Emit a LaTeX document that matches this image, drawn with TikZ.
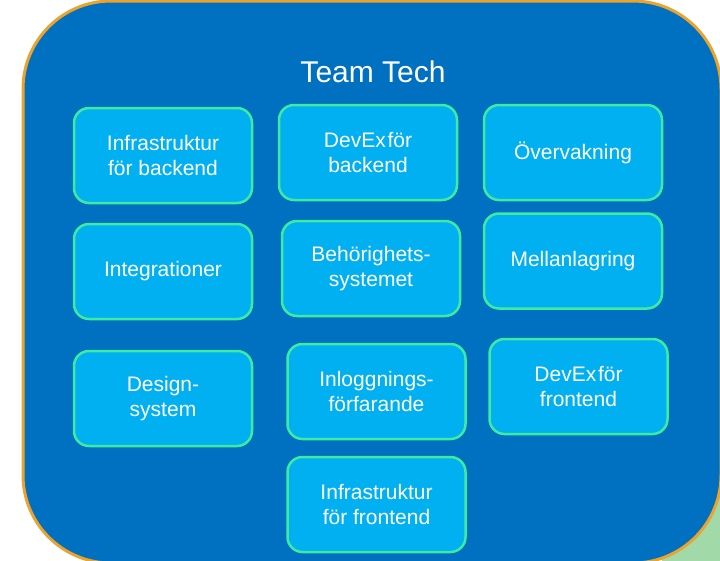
\documentclass[tikz,border=0pt]{standalone}
\usepackage{fontspec}
\setmainfont{Liberation Sans}
\definecolor{bigblue}{HTML}{0070C0}
\definecolor{boxblue}{HTML}{00B0F0}
\definecolor{mint}{HTML}{3EEBA0}
\definecolor{orangeedge}{HTML}{EBA32E}
\definecolor{cornergreen}{HTML}{A2D9A9}
\tikzset{
  tbox/.style={draw=mint, line width=2.5pt, fill=boxblue, rounded corners=15pt,
    minimum width=178pt, minimum height=95pt, align=center, text=white,
    font=\fontsize{21}{24.5}\selectfont, inner sep=0pt},
  title/.style={text=white, font=\fontsize{30}{34}\selectfont, inner sep=0pt}
}
\begin{document}
\begin{tikzpicture}[x=1pt,y=-1pt]
\useasboundingbox (0,0) rectangle (720,560);
\clip (0,0) rectangle (720,560);
\fill[cornergreen] (662,460) rectangle (722,562);
\draw[draw=orangeedge, line width=3pt, fill=bigblue, rounded corners=88pt] (23,1) rectangle (721,563);
\node[title, anchor=base] (t) at (373,82) {Team Tech};
\node[tbox] (b1) at (163,155.5) {Infrastruktur\\för backend};
\node[tbox] (b2) at (368,152.5) {DevEx\hspace{0.08em}för\\backend};
\node[tbox] (b3) at (573,152.5) {Övervakning};
\node[tbox] (b4) at (163,271.5) {Integrationer};
\node[tbox] (b5) at (371,268.5) {Behörighets-\\systemet};
\node[tbox] (b6) at (573,261) {Mellanlagring};
\node[tbox] (b7) at (163,398.5) {Design-\\system};
\node[tbox] (b8) at (376.5,391.5) {Inloggnings-\\förfarande};
\node[tbox] (b9) at (578.5,386.5) {DevEx\hspace{0.08em}för\\frontend};
\node[tbox] (b10) at (376.5,504.5) {Infrastruktur\\för frontend};
\end{tikzpicture}
\end{document}
